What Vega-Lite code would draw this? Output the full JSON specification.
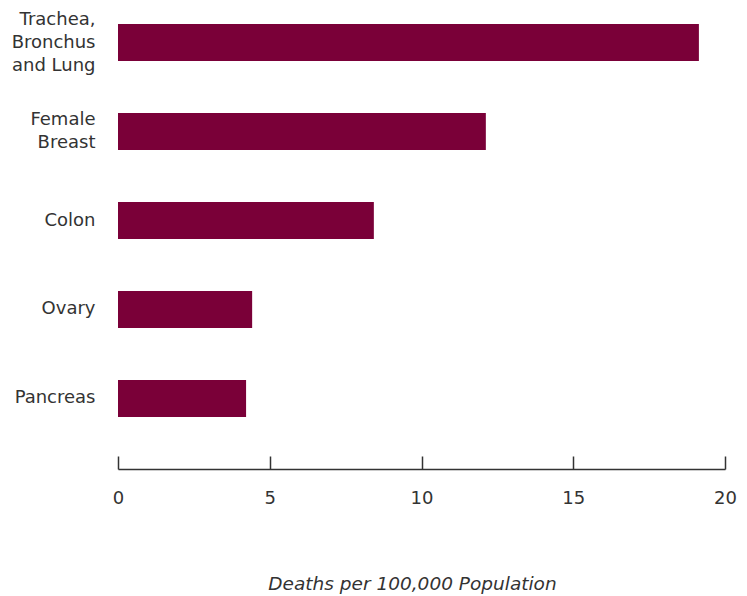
{
  "$schema": "https://vega.github.io/schema/vega-lite/v6.json",
  "width": 607,
  "height": 441,
  "autosize": {"type": "none"},
  "padding": {"left": 118, "top": 0, "right": 22, "bottom": 155},
  "background": "white",
  "config": {
    "view": {"stroke": null},
    "font": "DejaVu Sans",
    "axis": {"labelFont": "DejaVu Sans", "titleFont": "DejaVu Sans", "labelColor": "#333333", "titleColor": "#333333"}
  },
  "data": {
    "values": [
      {"site": "Trachea, Bronchus and Lung", "rate": 19.14},
      {"site": "Female Breast", "rate": 12.12},
      {"site": "Colon", "rate": 8.43},
      {"site": "Ovary", "rate": 4.42},
      {"site": "Pancreas", "rate": 4.22}
    ]
  },
  "mark": {"type": "bar", "color": "#7a0038"},
  "encoding": {
    "y": {
      "field": "site",
      "type": "nominal",
      "sort": null,
      "scale": {"paddingInner": 0.584, "paddingOuter": 0.27},
      "axis": {
        "title": null,
        "domain": false,
        "ticks": false,
        "labelPadding": 23,
        "labelFontSize": 18,
        "labelLineHeight": 23,
        "labelExpr": "datum.value == 'Trachea, Bronchus and Lung' ? ['Trachea,', 'Bronchus', 'and Lung'] : datum.value == 'Female Breast' ? ['Female', 'Breast'] : datum.value",
        "labelOffset": {
          "condition": [
            {"test": "datum.value == 'Trachea, Bronchus and Lung'", "value": -23},
            {"test": "datum.value == 'Female Breast'", "value": -11.5}
          ],
          "value": 0
        }
      }
    },
    "x": {
      "field": "rate",
      "type": "quantitative",
      "scale": {"domain": [0, 20], "nice": false},
      "axis": {
        "title": "Deaths per 100,000 Population",
        "titleFontStyle": "italic",
        "titleFontWeight": "normal",
        "titleFontSize": 18.5,
        "titlePadding": 67,
        "titleX": 294,
        "values": [0, 5, 10, 15, 20],
        "grid": false,
        "offset": 28,
        "domainColor": "#333333",
        "domainWidth": 1.5,
        "tickColor": "#333333",
        "tickWidth": 1.5,
        "tickSize": -13,
        "labelPadding": 33,
        "labelFontSize": 18,
        "labelFlush": false
      }
    }
  }
}
